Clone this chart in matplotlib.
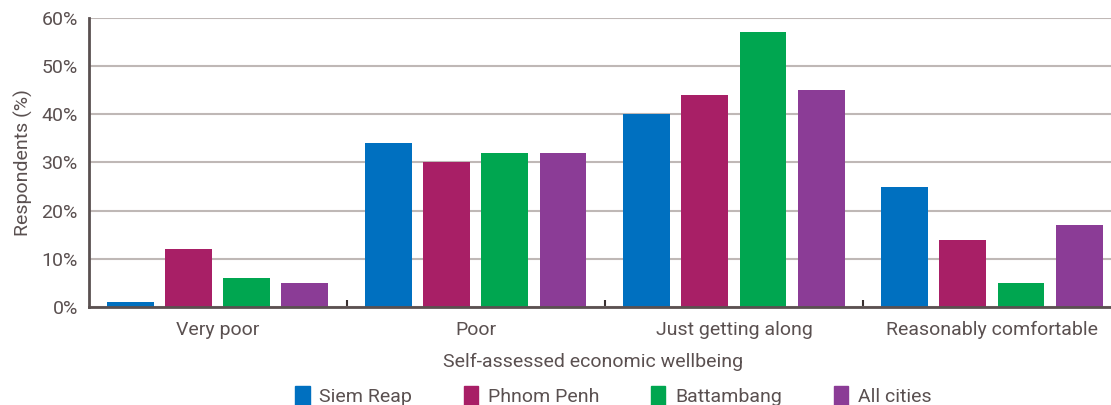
import matplotlib.pyplot as plt
import matplotlib.patches as mpatches
import numpy as np

# share of respondents per wellbeing category
categories = ["Very poor", "Poor", "Just getting along", "Reasonably comfortable"]
cities = ["Siem Reap", "Phnom Penh", "Battambang", "All cities"]
siem_reap = [1, 34, 40, 25]
phnom_penh = [12, 30, 44, 14]
battambang = [6, 32, 57, 5]
all_cities = [5, 32, 45, 17]
colors = ["#0070c0", "#a81f66", "#00a650", "#8b3c96"]

text_col = "#5a5050"
plt.rcParams["font.family"] = ["Roboto", "DejaVu Sans"]

fig = plt.figure(figsize=(11.11, 4.05), dpi=100)
ax = fig.add_axes([0.080, 0.242, 0.92, 0.714])

x = np.arange(len(categories))
width = 0.182
step = 0.225
series = [siem_reap, phnom_penh, battambang, all_cities]
for i, vals in enumerate(series):
    ax.bar(x + (i - 1.5) * step, vals, width, color=colors[i], zorder=3)

ax.set_ylim(0, 60)
ax.set_yticks(range(0, 61, 10))
ax.set_yticklabels([f"{v}%" for v in range(0, 61, 10)])
ax.set_xlim(-0.5, -0.5 + 1022 / 258)
ax.set_xticks(x)
ax.set_xticklabels(categories)
ax.set_xticks([0.5, 1.5, 2.5], minor=True)
ax.tick_params(axis="x", which="major", length=0, pad=10, labelsize=14, labelcolor=text_col)
ax.tick_params(axis="x", which="minor", length=5, width=1.5, direction="in", color="#3a3030")
ax.tick_params(axis="y", length=0, pad=8, labelsize=14, labelcolor=text_col)

ax.grid(axis="y", color="#bfb8b6", linewidth=1.5, zorder=0)
for s in ["top", "right"]:
    ax.spines[s].set_visible(False)
for s in ["left", "bottom"]:
    ax.spines[s].set_color("#5a5050")
    ax.spines[s].set_linewidth(2)
    ax.spines[s].set_zorder(4)

ax.set_ylabel("Respondents (%)", fontsize=14, color=text_col, labelpad=6)
ax.set_xlabel("Self-assessed economic wellbeing", fontsize=14, color=text_col, labelpad=6)
ax.xaxis.set_label_coords(0.4935, -0.16)

handles = [mpatches.Patch(color=c, label=n) for c, n in zip(colors, cities)]
fig.legend(handles=handles, loc="center", bbox_to_anchor=(0.552, 0.022), ncol=4,
           frameon=False, fontsize=14, labelcolor=text_col, handlelength=0.75,
           handleheight=1.25, handletextpad=0.5, columnspacing=2.65)

fig.savefig("out.png", dpi=100)
